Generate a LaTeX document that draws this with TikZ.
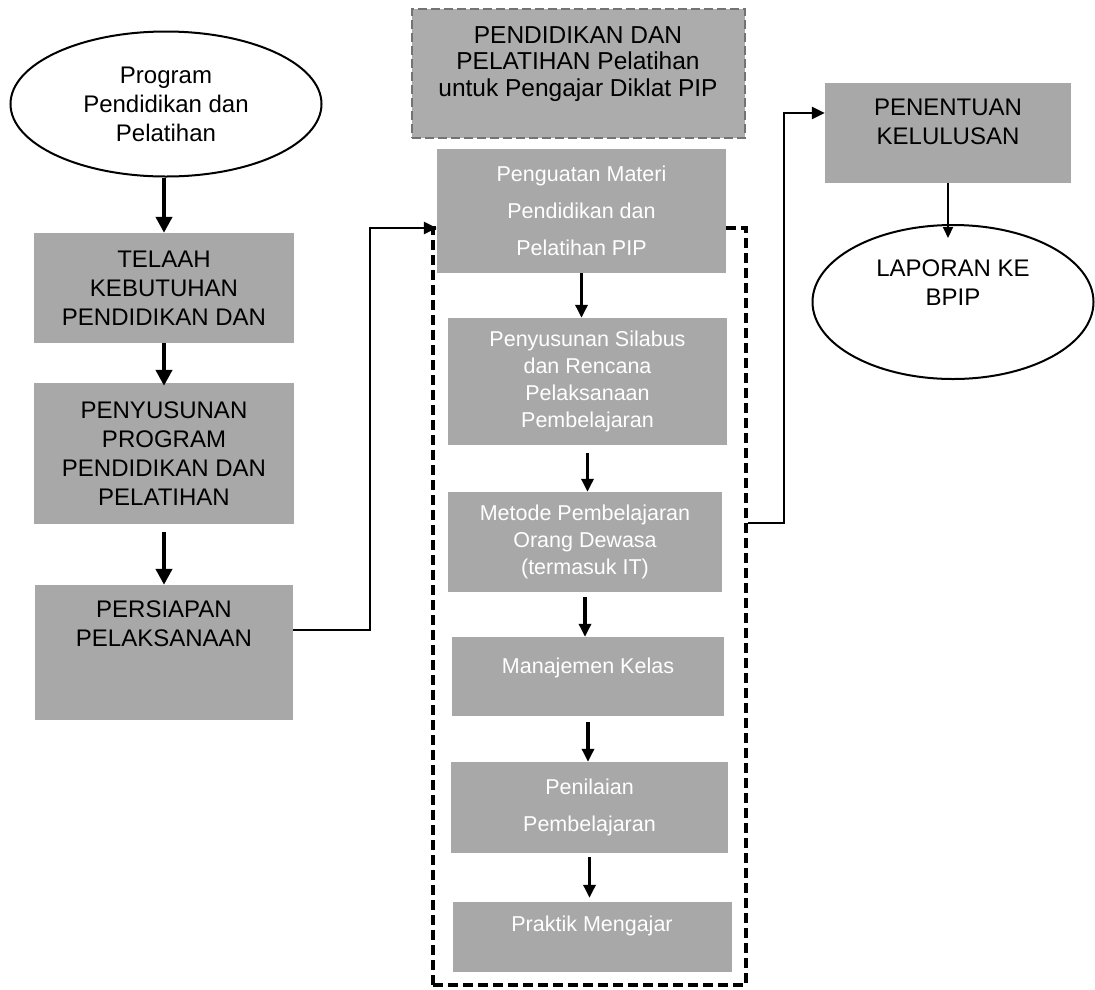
\documentclass[tikz,border=0pt]{standalone}
\usepackage{fontspec}
\setmainfont{Liberation Sans}
\usetikzlibrary{arrows.meta,shapes.geometric}
\definecolor{boxgray}{RGB}{168,168,168}
\definecolor{titlegray}{RGB}{172,172,172}
\definecolor{bordergray}{RGB}{115,115,115}
\begin{document}
\begin{tikzpicture}[x=1pt,y=-1pt,
  gbox/.style={rectangle, fill=boxgray, draw=none, inner sep=0pt, align=center},
  lefttext/.style={font=\fontsize{24}{29}\selectfont, text=black, align=center, inner sep=0pt},
  titletext/.style={font=\fontsize{24.5}{26.7}\selectfont, text=black, align=center, inner sep=0pt},
  midtext/.style={font=\fontsize{21.5}{27}\selectfont, text=white, align=center, inner sep=0pt},
  midwide/.style={font=\fontsize{21.5}{37}\selectfont, text=white, align=center, inner sep=0pt},
  oval/.style={ellipse, draw=black, line width=2pt, fill=white, inner sep=0pt},
  bigarrow/.style={line width=4.5pt, -{Triangle[width=16pt,length=16pt]}},
  midarrow/.style={line width=3.2pt, -{Triangle[width=12pt,length=13pt]}},
  conn/.style={line width=2.8pt, -{Triangle[width=12pt,length=13pt]}},
  thinconn/.style={line width=2pt, -{Triangle[width=10pt,length=11pt]}},
  framestyle/.style={draw=black, line width=3.2pt, dash pattern=on 10pt off 5pt, inner sep=0pt, fill=none}
]
\useasboundingbox (0,0) rectangle (1095,989);

% dashed frame round the middle column
\node[framestyle, minimum width=313pt, minimum height=757pt] (frame) at (589.5,606.5) {};

% left column
\node[oval, minimum width=311pt, minimum height=145pt, lefttext, line width=2pt, draw=black, fill=white] (prog) at (166,104) {Program\\Pendidikan dan\\Pelatihan};
\node[gbox, minimum width=260pt, minimum height=110pt, lefttext] (telaah) at (164,288) {TELAAH\\KEBUTUHAN\\PENDIDIKAN DAN};
\node[gbox, minimum width=260pt, minimum height=141pt, lefttext] (penyusunan) at (164,453.5) {PENYUSUNAN\\PROGRAM\\PENDIDIKAN DAN\\PELATIHAN};
\node[gbox, minimum width=258pt, minimum height=135pt] (persiapan) at (164,652.5) {};
\node[lefttext] (persiapant) at (164,624) {PERSIAPAN\\PELAKSANAAN};

% middle column
\node[gbox, fill=titlegray, draw=bordergray, line width=2.5pt, dash pattern=on 9pt off 4pt, minimum width=333pt, minimum height=129pt] (title) at (578.5,73.5) {};
\node[titletext] (titlet) at (578,64) {PENDIDIKAN DAN\\PELATIHAN Pelatihan\\untuk Pengajar Diklat PIP};
\node[gbox, minimum width=289pt, minimum height=124pt, midwide] (penguatan) at (581.5,211) {Penguatan Materi\\Pendidikan dan\\Pelatihan PIP};
\node[gbox, minimum width=279pt, minimum height=127pt, midtext] (silabus) at (587.5,381.5) {Penyusunan Silabus\\dan Rencana\\Pelaksanaan\\Pembelajaran};
\node[gbox, minimum width=274pt, minimum height=100pt, midtext] (metode) at (585,542) {Metode Pembelajaran\\Orang Dewasa\\(termasuk IT)};
\node[gbox, minimum width=272pt, minimum height=79pt] (manajemen) at (588,676.5) {};
\node[midtext] (manajement) at (588,668) {Manajemen Kelas};
\node[gbox, minimum width=277pt, minimum height=91pt, midwide] (penilaian) at (589.5,807.5) {Penilaian\\Pembelajaran};
\node[gbox, minimum width=279pt, minimum height=70pt] (praktik) at (592.5,937) {};
\node[midtext] (praktikt) at (592,926) {Praktik Mengajar};

% right column
\node[gbox, minimum width=246pt, minimum height=100pt] (penentuan) at (948,133) {};
\node[lefttext] (penentuant) at (948,122) {PENENTUAN\\KELULUSAN};
\node[oval, minimum width=281pt, minimum height=154pt] (laporan) at (953,302) {};
\node[lefttext] (laporant) at (953,283) {LAPORAN KE\\BPIP};

% left column arrows
\draw[bigarrow] (prog.south -| telaah.north) -- (telaah.north);
\draw[bigarrow, shorten >=-3pt] (telaah.south) -- (penyusunan.north);
\draw[bigarrow, shorten <=8pt] (penyusunan.south) -- (persiapan.north);

% middle column arrows
\draw[midarrow] (penguatan.south) -- (penguatan.south |- silabus.north);
\draw[midarrow, shorten <=8pt] (silabus.south) -- (silabus.south |- metode.north);
\draw[midarrow, shorten <=5pt] (metode.south) -- (metode.south |- manajemen.north);
\draw[midarrow, shorten <=6pt] (manajemen.south) -- (manajemen.south |- penilaian.north);
\draw[midarrow, shorten <=4pt, shorten >=4pt] (penilaian.south) -- (penilaian.south |- praktik.north);

% connectors between columns
\coordinate (pexit) at (persiapan.east |- 0,630);
\draw[conn] (pexit) -- (370,630) -- (370,228) -- (penguatan.west |- 0,228);
\coordinate (fexit) at (frame.east |- 0,523);
\draw[conn] (fexit) -- (784,523) -- (784,113) -- (penentuan.west |- 0,113);
\draw[thinconn] (penentuan.south) -- (penentuan.south |- 0,238);
\end{tikzpicture}
\end{document}
